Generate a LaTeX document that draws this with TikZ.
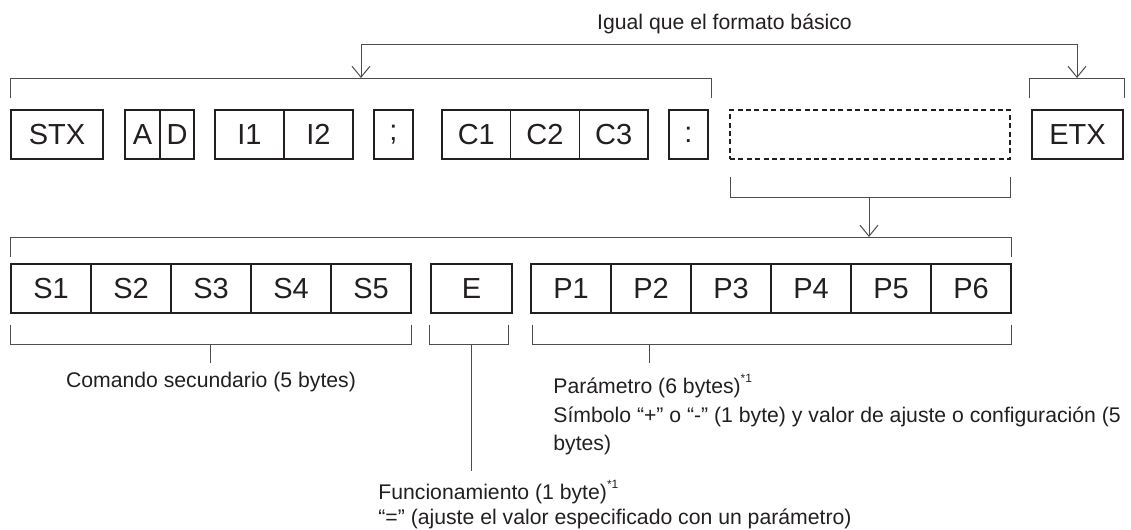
\documentclass[tikz,border=0pt]{standalone}
\usepackage{fontspec}
\setmainfont{Liberation Sans}
\usepackage{xcolor}
\usepackage{tikz}
\usetikzlibrary{arrows.meta,positioning}
\definecolor{boxline}{HTML}{231F20}
\definecolor{brkline}{HTML}{4D4D4D}
\newcommand{\noteone}{\raisebox{0.5em}{\fontsize{6}{6}\selectfont *1}}

\begin{document}
\begin{tikzpicture}[x=0.5pt,y=-0.5pt,
  cell/.style={draw=boxline,line width=0.75pt,minimum height=24.5pt,inner sep=0pt,outer sep=0pt,text=boxline,font=\fontsize{14.5}{14.5}\selectfont},
  brk/.style={draw=brkline,line width=0.5pt},
  barb/.tip={Straight Barb[length=5.5pt,width=9pt]},
  arr/.style={brk,-barb},
  lbl/.style={inner sep=0pt,text=boxline,font=\fontsize{10.6}{12}\selectfont}]
\useasboundingbox (0,0) rectangle (1131,530);
% basic format, first row
\node[cell,minimum width=46pt] (stx) at (57,134.5) {STX};
\node[cell,minimum width=17.5pt] (a) at (142.5,134.5) {A};
\node[cell,minimum width=17pt,right=0pt of a] (d) {D};
\node[cell,minimum width=34.5pt] (i1) at (249.5,134.5) {I1};
\node[cell,minimum width=34.5pt,right=0pt of i1] (i2) {I2};
\node[cell,minimum width=19.5pt] (semi) at (393.5,134.5) {;};
\node[cell,minimum width=34.33pt] (c1) at (476.3,134.5) {C1};
\node[cell,minimum width=34.33pt,right=0pt of c1] (c2) {C2};
\node[cell,minimum width=34.33pt,right=0pt of c2] (c3) {C3};
\node[cell,minimum width=19.5pt] (colon) at (688.5,134.5) {:};
\node[cell,dash pattern=on 2.5pt off 1.7pt,minimum width=140pt] (param) at (870,134.5) {};
\node[cell,minimum width=45.5pt] (etx) at (1077.5,134.5) {ETX};
% same as basic format
\coordinate (hub1) at (361,78);
\coordinate (hub2) at (1077,78);
\coordinate (top1) at (361,44);
\coordinate (top2) at (1077,44);
\draw[brk] (10,98) |- (711,78) -- (711,98);
\draw[brk] (1029,98) |- (1124,78) -- (1124,98);
\draw[brk,barb-barb] (hub1) -- (top1) -- (top2) -- (hub2);
\node[lbl,anchor=base] (same) at (724.5,30) {Igual que el formato básico};
% expansion of the parameter
\coordinate (hub3) at (869,197);
\coordinate (hub4) at (869,237);
\draw[brk] (730,177) |- (1010,197) -- (1010,177);
\draw[arr] (hub3) -- (hub4);
\draw[brk] (10,257) |- (1011,237) -- (1011,257);
% second row
\node[cell,minimum width=40pt] (s1) at (51,288.5) {S1};
\node[cell,minimum width=40pt,right=0pt of s1] (s2) {S2};
\node[cell,minimum width=40pt,right=0pt of s2] (s3) {S3};
\node[cell,minimum width=40pt,right=0pt of s3] (s4) {S4};
\node[cell,minimum width=40pt,right=0pt of s4] (s5) {S5};
\node[cell,minimum width=40.5pt] (e) at (471.5,288.5) {E};
\node[cell,minimum width=40pt] (p1) at (571,288.5) {P1};
\node[cell,minimum width=40pt,right=0pt of p1] (p2) {P2};
\node[cell,minimum width=40pt,right=0pt of p2] (p3) {P3};
\node[cell,minimum width=40pt,right=0pt of p3] (p4) {P4};
\node[cell,minimum width=40pt,right=0pt of p4] (p5) {P5};
\node[cell,minimum width=40pt,right=0pt of p5] (p6) {P6};
% lower brackets and labels
\draw[brk] (10,325) |- (411,344) -- (411,325);
\draw[brk] (429,325) |- (508,344) -- (508,325);
\draw[brk] (532,325) |- (1011,344) -- (1011,325);
\node[lbl,anchor=base] (cmd) at (211,387) {Comando secundario (5 bytes)};
\node[lbl,anchor=base west] (prm) at (553,393) {Parámetro (6 bytes)\noteone};
\node[lbl,anchor=base west] (sym) at (553,422) {Símbolo “+” o “-” (1 byte) y valor de ajuste o configuración (5};
\node[lbl,anchor=base west] (symb) at (553,450) {bytes)};
\node[lbl,anchor=base west] (fnc) at (378,499) {Funcionamiento (1 byte)\noteone};
\node[lbl,anchor=base west] (fncb) at (378,524) {“=” (ajuste el valor especificado con un parámetro)};
\draw[brk] (210,344) -- (210,363);
\draw[brk] (471,344) -- (471,471);
\draw[brk] (649,344) -- (649,363);
\end{tikzpicture}
\end{document}
